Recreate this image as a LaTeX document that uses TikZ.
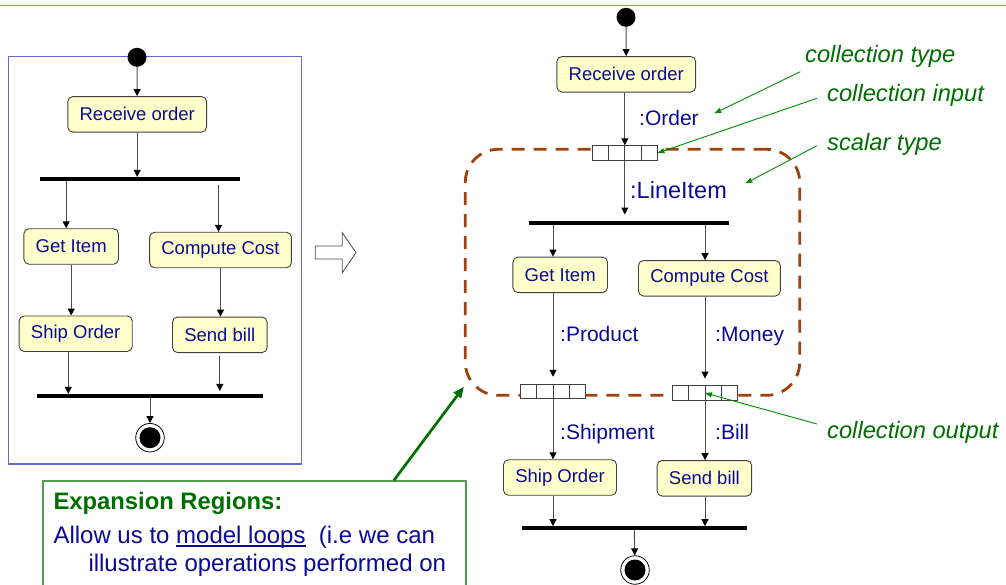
\documentclass[tikz,border=0pt]{standalone}
\usepackage{fontspec}
\setmainfont{Liberation Sans}
\usetikzlibrary{arrows.meta,calc}
\definecolor{actfill}{RGB}{255,255,204}
\definecolor{acttext}{RGB}{10,10,150}
\definecolor{notegreen}{RGB}{0,110,0}
\definecolor{noteframe}{RGB}{80,155,80}
\definecolor{regionbrown}{RGB}{160,64,10}
\definecolor{frameblue}{RGB}{102,102,204}
\definecolor{slidepink}{RGB}{255,90,210}
\newlength\lineunderwd
\newcommand\lineunder[1]{\settowidth\lineunderwd{#1}\rlap{\rule[-3.6pt]{\lineunderwd}{1.6pt}}#1}
\begin{document}
\begin{tikzpicture}[x=1pt, y=-1pt,
  act/.style={draw=black!75, fill=actfill, rounded corners=5pt, text=acttext, line width=0.9pt,
    font=\fontsize{18.5}{22}\selectfont, inner xsep=11.8pt, inner ysep=0pt, minimum height=35.5pt},
  syncbar/.style={fill=black, inner sep=0pt, minimum height=3.8pt},
  initdot/.style={circle, fill=black, inner sep=0pt, minimum size=19pt},
  enddot/.style={circle, draw=black, fill=white, line width=0.8pt, inner sep=0pt, minimum size=28.5pt,
    path picture={\fill[black] (path picture bounding box.center) circle (10.5pt);}},
  collpin/.style={draw=black!75, fill=white, line width=0.8pt, inner sep=0pt,
    minimum width=64.5pt, minimum height=14.7pt,
    path picture={\foreach \k in {1,2,3}
      \draw[black!75, line width=0.8pt]
        ($(path picture bounding box.south west)!\k/4!(path picture bounding box.south east)$) --
        ($(path picture bounding box.north west)!\k/4!(path picture bounding box.north east)$);}},
  expansion/.style={draw=regionbrown, line width=2.8pt, dash pattern=on 13pt off 9pt,
    rounded corners=33pt, inner sep=0pt},
  flow/.style={draw=black!70, line width=1pt, -{Triangle[length=7pt,width=7pt,color=black]}},
  typelbl/.style={text=acttext, font=\fontsize{21}{25}\selectfont, anchor=base west, inner sep=0pt},
  remark/.style={text=notegreen, font=\fontsize{23.7}{28}\selectfont\itshape, anchor=base west, inner sep=0pt},
  remarkarrow/.style={draw=notegreen!80!green, line width=0.9pt, -{Triangle[length=7pt,width=5pt]}},
  notetext/.style={anchor=base west, inner sep=0pt, text=acttext, font=\fontsize{24}{28}\selectfont}]
\useasboundingbox (0,0) rectangle (1006,584);
\clip (0,0) rectangle (1006,584);
\draw[slidepink, line width=1.4pt] (0,5.3) -- (1006,5.3);

\draw[frameblue, line width=1.3pt] (8.7,56.7) rectangle (301.7,464);
\node[initdot] (startL) at (137,57.3) {};
\node[act] (recvL) at (137.2,114.3) {Receive order};
\node[syncbar, minimum width=200pt] (forkL) at (140,179) {};
\node[act] (getL) at (71.2,246.5) {Get Item};
\node[act] (costL) at (220.5,250) {Compute Cost};
\node[act] (shipL) at (75.7,333.7) {Ship Order};
\node[act] (sendL) at (219.8,334.8) {Send bill};
\node[syncbar, minimum width=225.4pt] (joinL) at (150,396) {};
\node[enddot] (endL) at (150,437.7) {};
\draw[flow] (startL) -- (recvL);
\draw[flow] (recvL) -- (recvL |- forkL.north);
\draw[flow] ($(getL.north |- forkL.south)+(-5,0)$) -- ($(getL.north)+(-5,0)$);
\draw[flow] ($(costL.north |- forkL.south)+(-2,4)$) -- ($(costL.north)+(-2,0)$);
\draw[flow] (getL) -- (getL |- shipL.north);
\draw[flow] (costL) -- (costL |- sendL.north);
\draw[flow] ($(shipL.south)+(-7.4,0)$) -- ($(shipL.south |- joinL.north)+(-7.4,0)$);
\draw[flow] ($(sendL.south)+(0,3)$) -- ($(sendL.south |- joinL.north)+(0,-3)$);
\draw[flow] (joinL) -- (endL);

\draw[draw=black!70, fill=white, line width=0.8pt] (315.3,246) -- (342.3,246) -- (342.3,232.7)
  -- (356,252.6) -- (342.3,272.7) -- (342.3,259) -- (315.3,259) -- cycle;

\node[expansion, minimum width=334.4pt, minimum height=246pt] (expRegion) at (632.5,272.3) {};
\node[initdot] (startR) at (626,17.3) {};
\node[act] (recvR) at (626.3,74.3) {Receive order};
\node[collpin] (pinIn) at (624.8,153) {};
\node[syncbar, minimum width=199.7pt] (forkR) at (628.8,222.7) {};
\node[act] (getR) at (560.2,274.8) {Get Item};
\node[act] (costR) at (709.4,278.3) {Compute Cost};
\node[collpin] (pinP) at (553,391.5) {};
\node[collpin] (pinM) at (705,393) {};
\node[act] (shipR) at (560,477.5) {Ship Order};
\node[act] (sendR) at (704.4,478.3) {Send bill};
\node[syncbar, minimum width=225.3pt] (joinR) at (634.3,528.3) {};
\node[enddot] (endR) at (635,570) {};
\draw[flow] (startR) -- (recvR);
\draw[flow] (recvR.south -| pinIn) -- (pinIn.north);
\draw[flow] (pinIn.south) -- ($(pinIn |- forkR.north)+(0,-6)$);
\draw[flow] (forkR.south -| pinP) -- (getR.north -| pinP);
\draw[flow] (forkR.south -| pinM) -- (costR.north -| pinM);
\draw[flow] (getR.south -| pinP) -- ($(pinP.north)+(0,-7)$);
\draw[flow] (costR.south -| pinM) -- ($(pinM.north)+(0,-6.7)$);
\draw[flow] (pinP.south) -- (pinP.south |- shipR.north);
\draw[flow] (pinM.south) -- (pinM.south |- sendR.north);
\draw[flow] (shipR.south -| pinP) -- (pinP |- joinR.north);
\draw[flow] (sendR.south -| pinM) -- (pinM |- joinR.north);
\draw[flow] (joinR) -- (endR);

\node[typelbl] (orderLbl) at (639,125) {:Order};
\node[typelbl, font=\fontsize{23.5}{28}\selectfont] (itemLbl) at (630,198.3) {:LineItem};
\node[typelbl] (productLbl) at (560,341.3) {:Product};
\node[typelbl] (moneyLbl) at (715,341.3) {:Money};
\node[typelbl] (shipmentLbl) at (560,439.3) {:Shipment};
\node[typelbl] (billLbl) at (715,439.3) {:Bill};

\node[remark] (ctype) at (805,62) {collection type};
\node[remark] (cinput) at (827,101) {collection input};
\node[remark] (stype) at (827,150) {scalar type};
\node[remark] (coutput) at (827,438) {collection output};
\draw[remarkarrow] ($(ctype.base west)+(-4.7,9.7)$) -- ($(orderLbl.east)+(15.3,-4.1)$);
\draw[remarkarrow] ($(cinput.base west)+(-10,-2.7)$) -- (pinIn.east);
\draw[remarkarrow] ($(stype.base west)+(-10,-4.3)$) -- ($(itemLbl.east)+(18.3,-6.5)$);
\draw[remarkarrow] ($(coutput.base west)+(-10,-14)$) -- (pinM.center);

\node[draw=noteframe, line width=1.2pt, fill=white, anchor=north west, inner sep=0pt,
  minimum width=423pt, minimum height=130pt] (note) at (42.3,480.3) {};
\node[notetext, text=notegreen, font=\fontsize{23.8}{28}\selectfont\bfseries] (noteTitle) at (53.3,509) {Expansion Regions:};
\node[notetext] (noteLineA) at (53.3,543.3) {Allow us to \lineunder{model loops}\ \ (i.e we can};
\node[notetext] (noteLineB) at (88.3,571) {illustrate operations performed on};
\draw[notegreen, line width=2.7pt, -{Triangle[length=11pt,width=9pt]}]
  ($(note.north east)+(-72.6,0)$) -- ($(expRegion.south west)+(0,-10)$);
\end{tikzpicture}
\end{document}
